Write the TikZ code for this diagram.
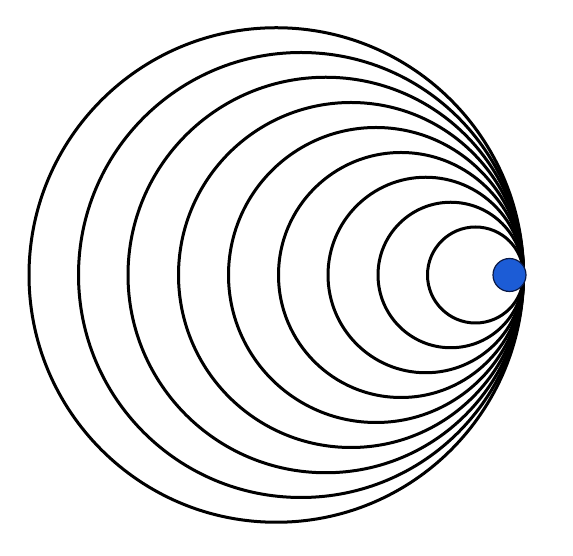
\documentclass[tikz,border=0pt]{standalone}
\usetikzlibrary{calc}
\definecolor{dotblue}{RGB}{28,92,214}
\definecolor{dotedge}{RGB}{10,25,70}
\begin{document}
\begin{tikzpicture}[x=1pt,y=1pt,
  ring/.style={draw=black,line width=3pt},
  bluedot/.style={circle,fill=dotblue,draw=dotedge,line width=1.2pt,minimum size=33pt,inner sep=0pt}]
\useasboundingbox (0,0) rectangle (573,556);
\coordinate (T) at (523.5,281);
\foreach \L in {29,78.5,128,178.5,228.5,278.5,328,378,427.5}{
  \pgfmathsetmacro{\r}{(523.5-\L)/2}
  \draw[ring] ($(T)+(-\r,0)$) circle[radius=\r];
}
\node[bluedot] (dot) at (509.5,281) {};
\end{tikzpicture}
\end{document}
